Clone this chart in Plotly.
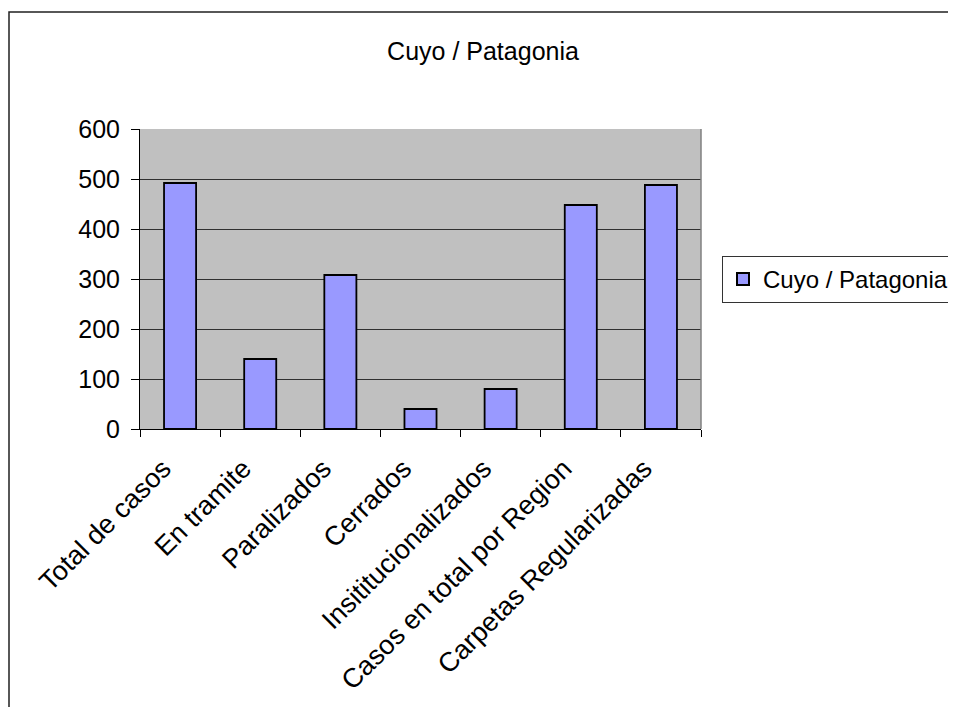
import plotly.graph_objects as go

categories = ["Total de casos", "En tramite", "Paralizados", "Cerrados",
              "Insititucionalizados", "Casos en total por Region", "Carpetas Regularizadas"]
values = [492, 140, 308, 40, 80, 448, 488]
series_name = "Cuyo / Patagonia"
title_text = "Cuyo / Patagonia"
y_ticks = [0, 100, 200, 300, 400, 500, 600]

FONT = "Liberation Sans, Arial, sans-serif"
FS = 25
OFF = 8  # default page body margin

W, H = 956 - OFF, 707 - OFF
L, T = 140 - OFF, 129 - OFF
PW, PH = 561, 300

fig = go.Figure()
fig.add_trace(go.Bar(
    x=categories, y=values, name=series_name,
    marker=dict(color="#9999FF", line=dict(color="black", width=1.8)),
    showlegend=True,
))

fig.update_layout(
    width=W, height=H,
    margin=dict(l=L, r=W - L - PW, t=T, b=H - T - PH),
    paper_bgcolor="white",
    plot_bgcolor="#C0C0C0",
    bargap=0.6,
    font=dict(family=FONT, size=FS, color="black"),
    title=dict(text=title_text, x=(483 - OFF) / W, xref="container", xanchor="center",
               y=1 - (51 - OFF) / H, yref="container", yanchor="middle",
               font=dict(family=FONT, size=FS, color="black")),
    showlegend=True,
    legend=dict(x=(722 - OFF) / W, y=1 - (256 - OFF) / H,
                xref="container", yref="container",
                xanchor="left", yanchor="top",
                bgcolor="white", bordercolor="#333333", borderwidth=1,
                font=dict(family=FONT, size=24, color="black"),
                itemsizing="constant"),
    xaxis=dict(
        type="category", tickangle=-45, tickson="boundaries",
        ticks="outside", ticklen=7, tickcolor="black", tickwidth=1,
        showline=True, linecolor="black", linewidth=1,
        showgrid=False, tickfont=dict(family=FONT, size=27, color="black"),
        ticklabelstandoff=12, ticklabelshift=-17,
    ),
    yaxis=dict(
        range=[0, 600], tickvals=y_ticks, ticktext=[str(v) for v in y_ticks],
        ticks="outside", ticklen=8, tickcolor="black", tickwidth=1,
        showline=True, linecolor="black", linewidth=1,
        showgrid=True, gridcolor="#303030", gridwidth=1,
        zeroline=False, tickfont=dict(family=FONT, size=FS, color="black"),
        ticklabelstandoff=6,
    ),
    shapes=[
        dict(type="line", xref="paper", yref="paper", x0=1, x1=1, y0=0, y1=1,
             line=dict(color="#808080", width=1.5), layer="above"),
        dict(type="rect", xref="paper", yref="paper",
             x0=(9 - 140) / PW, x1=(990 - 140) / PW,
             y0=(429 - 740) / PH, y1=(429 - 12) / PH,
             line=dict(color="#202020", width=1.5), layer="above"),
    ],
)

fig.write_html("out.html")
